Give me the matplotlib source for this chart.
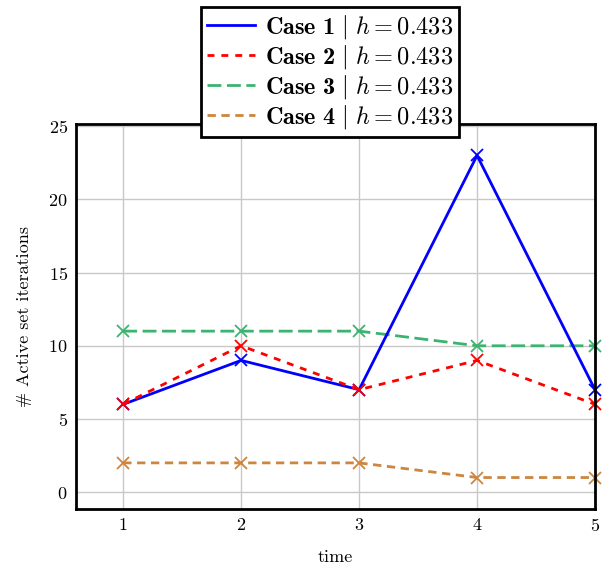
import matplotlib
matplotlib.use("Agg")
import matplotlib.pyplot as plt

plt.rcParams["font.family"] = "cmr10"
plt.rcParams["mathtext.fontset"] = "custom"
plt.rcParams["mathtext.rm"] = "cmr10"
plt.rcParams["mathtext.it"] = "cmmi10"
plt.rcParams["mathtext.bf"] = "cmb10"
plt.rcParams["mathtext.cal"] = "cmsy10"
plt.rcParams["axes.formatter.use_mathtext"] = True

time = [1, 2, 3, 4, 5]
case1 = [6, 9, 7, 23, 7]
case2 = [6, 10, 7, 9, 6]
case3 = [11, 11, 11, 10, 10]
case4 = [2, 2, 2, 1, 1]
labels = [r"$\mathbf{Case\ 1}\ \mathcal{j}\ h = 0.433$",
          r"$\mathbf{Case\ 2}\ \mathcal{j}\ h = 0.433$",
          r"$\mathbf{Case\ 3}\ \mathcal{j}\ h = 0.433$",
          r"$\mathbf{Case\ 4}\ \mathcal{j}\ h = 0.433$"]

fig = plt.figure(figsize=(6.02, 5.72), dpi=100)
ax = fig.add_axes([76 / 602, 1 - 509 / 572, (595 - 76) / 602, (509 - 124) / 572])

ax.plot(time, case4, color="#cd853f", lw=2, ls=(0, (3, 2)), marker="x", ms=9, mew=1.3, clip_on=False, label=labels[3])
ax.plot(time, case3, color="#3cb371", lw=2, ls=(0, (5, 2)), marker="x", ms=9, mew=1.3, clip_on=False, label=labels[2])
ax.plot(time, case1, color="#0000ff", lw=2, ls="-", marker="x", ms=9, mew=1.3, clip_on=False, label=labels[0])
ax.plot(time, case2, color="#ff0000", lw=2, ls=(0, (2.5, 2.5)), marker="x", ms=9, mew=1.3, clip_on=False, label=labels[1])

ax.set_xlim(0.6, 5)
ax.set_ylim(-1.15, 25.15)
ax.set_xticks([1, 2, 3, 4, 5])
ax.set_yticks([0, 5, 10, 15, 20, 25])
ax.grid(True, color="#c8c8c8", lw=1)
ax.set_axisbelow(True)
for s in ax.spines.values():
    s.set_linewidth(2)
ax.tick_params(labelsize=13, direction="in", length=0, pad=6)
ax.set_xlabel("time", fontsize=13, labelpad=11)
ax.set_ylabel("# Active set iterations", fontsize=13, labelpad=12)

h, l = ax.get_legend_handles_labels()
order = [2, 3, 1, 0]
leg = fig.legend([h[i] for i in order], [l[i] for i in order], loc="upper center",
                 bbox_to_anchor=(330 / 602, 1 - 7 / 572), borderaxespad=0,
                 fontsize=17.5, handlelength=2.0, fancybox=False, framealpha=1,
                 edgecolor="black", borderpad=0.25, labelspacing=0.08, handletextpad=0.4)
leg.get_frame().set_linewidth(2)
for line in leg.get_lines():
    line.set_marker("")

fig.savefig("out.png", dpi=100)
